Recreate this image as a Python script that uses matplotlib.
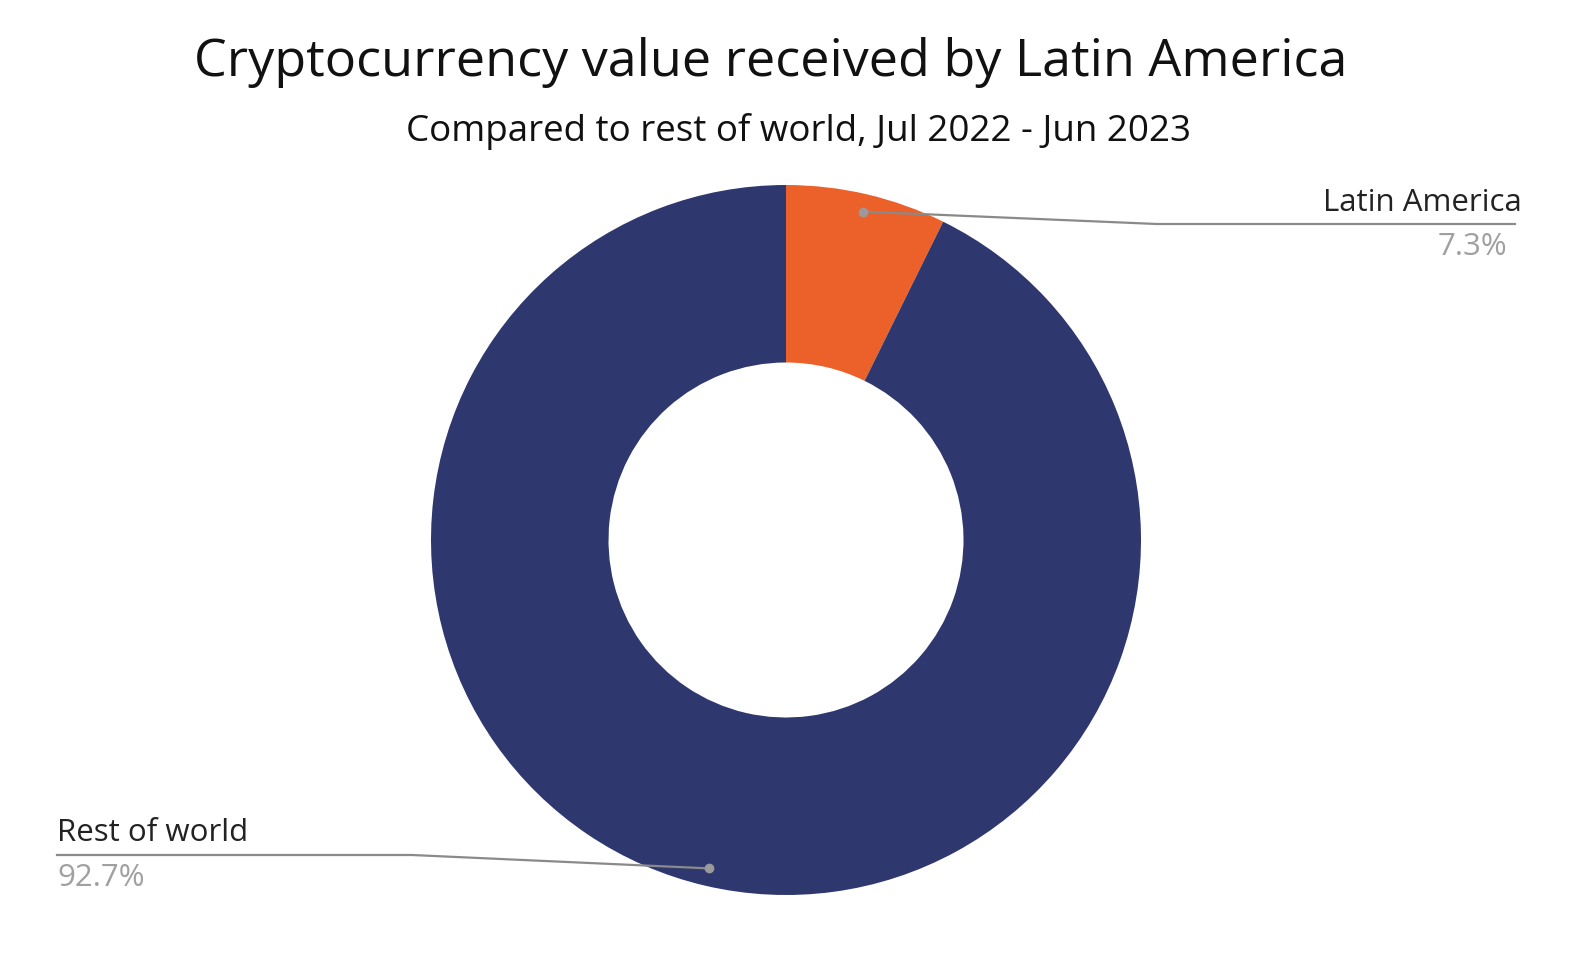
import matplotlib.pyplot as plt
import numpy as np

plt.rcParams['font.family'] = ['Open Sans', 'DejaVu Sans']

# data
labels = ['Latin America', 'Rest of world']
shares = [7.3, 92.7]
colors = ['#EB6129', '#2E376E']

W, H = 1572, 972
fig = plt.figure(figsize=(W / 100, H / 100), dpi=100)

# donut centre (786, 540) px, outer radius 355 px
cx, cy, R = 786, 540, 355
ax = fig.add_axes([(cx - R) / W, (H - cy - R) / H, 2 * R / W, 2 * R / H])

wedges, _ = ax.pie(shares, colors=colors, startangle=90, counterclock=False,
                   radius=1, wedgeprops=dict(width=0.5, linewidth=0))
ax.set_xlim(-1, 1)
ax.set_ylim(-1, 1)
ax.set_aspect('equal')
ax.axis('off')


def px(x, y):
    # figure pixel (from top-left) -> data coords
    return (x - cx) / R, (cy - y) / R


line_col = '#8a8a8a'
# callout lines: dot at mid angle, elbow, end
total = sum(shares)
start = 90
for i, (lab, val) in enumerate(zip(labels, shares)):
    mid = start - val / total * 360 / 2
    start -= val / total * 360
    r = 0.95
    dx, dy = r * np.cos(np.radians(mid)), r * np.sin(np.radians(mid))
    if i == 0:
        elbow = px(1157, 224)
        end = px(1515, 224)
        tx, ha = px(1522, 0)[0], 'right'
        ty1, ty2 = px(0, 203)[1], px(0, 247)[1]
        px_off = px(1507, 0)[0]
    else:
        elbow = px(412, 855)
        end = px(57, 855)
        tx, ha = px(57, 0)[0], 'left'
        ty1, ty2 = px(0, 833)[1], px(0, 878)[1]
        px_off = tx
    ax.plot([dx, elbow[0], end[0]], [dy, elbow[1], end[1]], color=line_col,
            lw=1.6, clip_on=False, zorder=3)
    ax.plot([dx], [dy], 'o', color='#9a9a9a', ms=6, clip_on=False, zorder=4)
    ax.text(tx, ty1, lab, ha=ha, va='center', fontsize=22.5, color='#222222', clip_on=False)
    ax.text(px_off, ty2, f'{val}%', ha=ha, va='center', fontsize=22.5, color='#a0a0a0', clip_on=False)

fig.text(771 / W, 1 - 62 / H, 'Cryptocurrency value received by Latin America',
         ha='center', va='center', fontsize=37.5, color='#111111')
fig.text(798 / W, 1 - 132 / H, 'Compared to rest of world, Jul 2022 - Jun 2023',
         ha='center', va='center', fontsize=26.5, color='#111111')

fig.savefig('out.png', dpi=100, facecolor='white')
